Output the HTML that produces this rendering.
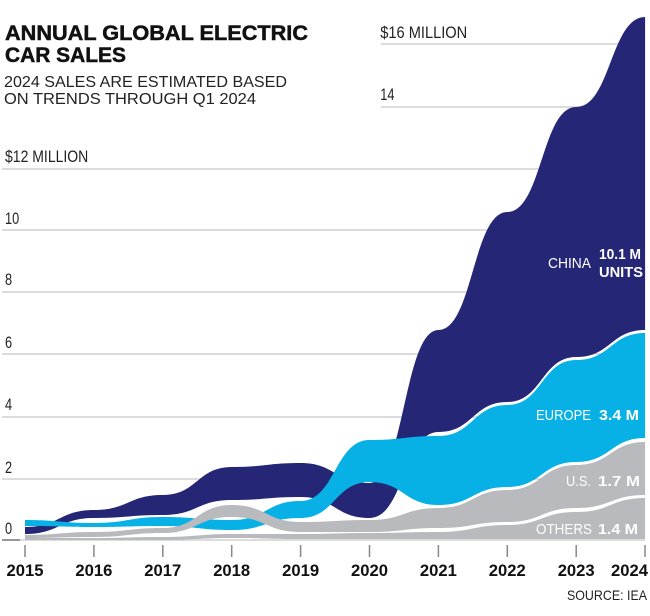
<!DOCTYPE html>
<html><head><meta charset="utf-8"><style>
html,body{margin:0;padding:0;background:#fff}
svg{display:block}
text{font-family:"Liberation Sans",sans-serif}
</style></head><body>
<svg id="s" width="650" height="616" viewBox="0 0 650 616">
<g stroke="#dcdcdc" stroke-width="2">
<line x1="381" y1="44" x2="645" y2="44"/><line x1="381" y1="107" x2="645" y2="107"/>
<line x1="2" y1="169" x2="645" y2="169"/><line x1="2" y1="230" x2="645" y2="230"/>
<line x1="2" y1="292" x2="645" y2="292"/><line x1="2" y1="354" x2="645" y2="354"/>
<line x1="2" y1="417" x2="645" y2="417"/><line x1="2" y1="479" x2="645" y2="479"/>
<line x1="2" y1="540" x2="645" y2="540"/>
</g>
<line x1="2" y1="540" x2="20" y2="540" stroke="#999" stroke-width="2"/>
<g id="bands"></g>
<g font-size="17" fill="#222" transform="scale(0.75,1)">
<text x="6.7" y="162" textLength="111" lengthAdjust="spacingAndGlyphs">$12 MILLION</text>
<text x="6.7" y="224">10</text><text x="6.7" y="285">8</text><text x="6.7" y="348">6</text>
<text x="6.7" y="410">4</text><text x="6.7" y="473">2</text><text x="6.7" y="534">0</text>
<text x="507" y="38" textLength="116" lengthAdjust="spacingAndGlyphs">$16 MILLION</text>
<text x="507" y="100">14</text>
</g>
<text x="5" y="40" font-size="21" font-weight="bold" fill="#111" stroke="#111" stroke-width="0.5" textLength="303" lengthAdjust="spacingAndGlyphs">ANNUAL GLOBAL ELECTRIC</text>
<text x="5" y="62" font-size="21" font-weight="bold" fill="#111" stroke="#111" stroke-width="0.5" textLength="121" lengthAdjust="spacingAndGlyphs">CAR SALES</text>
<text x="4" y="87" font-size="16" fill="#222" textLength="283" lengthAdjust="spacingAndGlyphs">2024 SALES ARE ESTIMATED BASED</text>
<text x="4" y="104" font-size="16" fill="#222" textLength="252" lengthAdjust="spacingAndGlyphs">ON TRENDS THROUGH Q1 2024</text>
<g fill="#fff" font-size="15">
<text x="548" y="268" textLength="43" lengthAdjust="spacingAndGlyphs">CHINA</text>
<text x="599" y="259" font-weight="bold" textLength="42" lengthAdjust="spacingAndGlyphs">10.1 M</text>
<text x="599" y="277" font-weight="bold" textLength="44" lengthAdjust="spacingAndGlyphs">UNITS</text>
<text x="536" y="420" textLength="55" lengthAdjust="spacingAndGlyphs">EUROPE</text>
<text x="599" y="420" font-weight="bold" textLength="40" lengthAdjust="spacingAndGlyphs">3.4 M</text>
<text x="566" y="486" textLength="25" lengthAdjust="spacingAndGlyphs">U.S.</text>
<text x="598" y="486" font-weight="bold" textLength="42" lengthAdjust="spacingAndGlyphs">1.7 M</text>
<text x="536" y="534" textLength="56" lengthAdjust="spacingAndGlyphs">OTHERS</text>
<text x="598" y="534" font-weight="bold" textLength="40" lengthAdjust="spacingAndGlyphs">1.4 M</text>
</g>
<g id="ticks" stroke="#888" stroke-width="1.5"></g>
<g id="yl" font-size="17" font-weight="bold" fill="#111"></g>
<text x="567" y="600" font-size="14" fill="#222" textLength="80" lengthAdjust="spacingAndGlyphs">SOURCE: IEA</text>
</svg>
<script>
var X=[];for(var i=0;i<10;i++)X.push(25+68.9*i);
var D={
o:[[537,540],[538,540],[537,540],[534,538],[534,539],[533,539],[532,539],[525,539],[512,539],[498,539]],
u:[[535,537],[532,537],[528,533],[505,517],[522,532],[520,532],[508,528],[490,522],[465,508],[442,495]],
e:[[520,526],[523,527],[517,526],[520,530],[501,518],[440,482],[436,505],[405,487],[360,462],[333,438]],
c:[[527,534],[510,518],[495,515],[467,500],[463,497],[483,518],[330,432],[212,402],[107,357],[17,330]]};
function seg(pts){var s="";for(var i=1;i<pts.length;i++){var a=pts[i-1],b=pts[i],m=(b[0]-a[0])*0.5;
s+=" C"+(a[0]+m)+","+a[1]+" "+(b[0]-m)+","+b[1]+" "+b[0]+","+b[1];}return s;}
function band(d,col){var top=[],bot=[];for(var i=0;i<10;i++){top.push([X[i],d[i][0]]);bot.push([X[i],d[i][1]]);}
bot.reverse();var p="M"+top[0][0]+","+top[0][1]+seg(top)+" L"+bot[0][0]+","+bot[0][1]+seg(bot)+"Z";
return '<path d="'+p+'" fill="'+col+'"/>';}
document.getElementById("bands").innerHTML=band(D.c,"#262676")+band(D.e,"#07b1e6")+band(D.u,"#b9babe")+band(D.o,"#b9babe");
var t="",l="";for(var i=0;i<10;i++){var x=i==9?645:X[i];t+='<line x1="'+x+'" y1="545" x2="'+x+'" y2="557"/>';
l+='<text x="'+(i==9?648:x)+'" y="576" text-anchor="'+(i==9?"end":"middle")+'" textLength="37" lengthAdjust="spacingAndGlyphs">'+(2015+i)+'</text>';}
document.getElementById("ticks").innerHTML=t;document.getElementById("yl").innerHTML=l;
</script>
</body></html>
